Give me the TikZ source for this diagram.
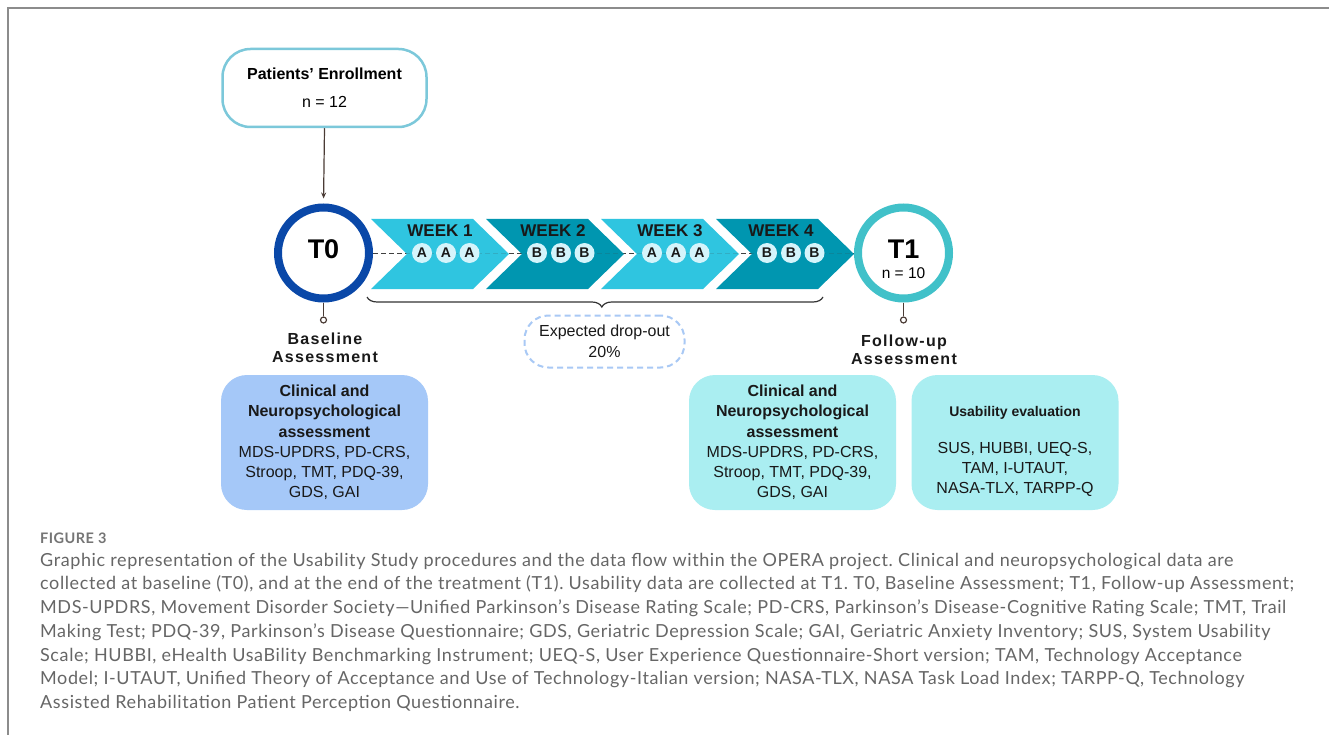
\documentclass[tikz,border=0pt]{standalone}
\usepackage{fontspec}
\setmainfont{Liberation Sans}
\newfontfamily\capfont[LetterSpace=3.3]{Lato}
\newfontfamily\spacedfont[LetterSpace=8]{Liberation Sans}
\usetikzlibrary{decorations.pathreplacing,calc,arrows.meta}
\definecolor{framec}{HTML}{8C8C8C}
\definecolor{enrollc}{HTML}{7CC8DA}
\definecolor{connc}{HTML}{4A3B35}
\definecolor{tzeroc}{HTML}{0A48A8}
\definecolor{tonec}{HTML}{41C1C9}
\definecolor{wlight}{HTML}{2FC5E0}
\definecolor{wdark}{HTML}{0096B0}
\definecolor{lettc}{HTML}{D4F4FB}
\definecolor{basec}{HTML}{A5C8F8}
\definecolor{followc}{HTML}{AAEEF1}
\definecolor{dropc}{HTML}{A9C9F5}
\definecolor{capc}{HTML}{666666}
\definecolor{bracec}{HTML}{333333}
\frenchspacing
\begin{document}
\begin{tikzpicture}[x=1pt,y=-1pt,
  enroll/.style={draw=enrollc, line width=2.5pt, rounded corners=28pt, minimum width=204pt, minimum height=78pt, fill=white, align=center, inner sep=0pt, font=\fontsize{16}{19}\selectfont},
  ring/.style={circle, minimum size=91pt, inner sep=0pt, line width=8pt, fill=white},
  conn/.style={draw=connc, line width=1.2pt},
  dot/.style={circle, draw=connc, fill=white, minimum size=6pt, inner sep=0pt, line width=1.2pt},
  letter/.style={circle, fill=lettc, minimum size=20pt, inner sep=0pt, text=black!90, font=\bfseries\fontsize{14}{14}\selectfont},
  weeklab/.style={font=\bfseries\fontsize{17}{18}\selectfont, text=black!90, inner sep=0pt},
  dashline/.style={draw=black!75, line width=1pt, dash pattern=on 5pt off 3pt},
  phase/.style={font=\spacedfont\bfseries\fontsize{16}{18}\selectfont, align=center, inner sep=0pt, text=black!90},
  assessbox/.style={rounded corners=26pt, minimum width=207pt, minimum height=135pt, inner sep=0pt, align=center, font=\fontsize{16}{20.2}\selectfont, text=black!90},
  dropbox/.style={draw=dropc, line width=2pt, dash pattern=on 6pt off 4pt, rounded corners=24pt, minimum width=160pt, minimum height=52pt, inner sep=0pt, align=center, font=\fontsize{16}{21}\selectfont, text=black!90},
  caption/.style={anchor=base west, inner sep=0pt, text=capc, font=\capfont\fontsize{18}{20}\selectfont}
]
\useasboundingbox (0,0) rectangle (1329,735);
\fill[white] (0,0) rectangle (1329,735);
% frame
\draw[framec, line width=1.5pt] (8,735) -- (8,8) -- (1329,8);

% enrollment
\node[enroll] (E) at (324.5,88) {\textbf{Patients’ Enrollment}\\[9pt]n = 12};

% time points
\node[ring, draw=tzeroc] (T0) at (323.5,253) {};
\node[ring, draw=tonec] (T1) at (903.5,253) {};
\node[font=\bfseries\fontsize{27}{30}\selectfont, inner sep=0pt] (T0lab) at (323.5,249) {T0};
\node[font=\bfseries\fontsize{27}{30}\selectfont, inner sep=0pt] (T1lab) at (903.5,249) {T1};
\node[font=\fontsize{15.5}{17}\selectfont, inner sep=0pt] (T1n) at (903.5,273) {n = 10};

\draw[conn, -{Stealth[length=6pt,width=5pt]}, shorten >=5pt] (E.south) -- (T0.north);

% dashed timeline (dark on white)
\draw[dashline] (T0.east) -- (T1.west);

% chevrons
\foreach \L/\col in {371/wlight, 486/wdark, 601/wlight, 716/wdark}{
  \fill[\col] (\L,219) -- ({\L+102},219) -- ({\L+138},254) -- ({\L+102},289) -- (\L,289) -- ({\L+36},254) -- cycle;
}
% dashed timeline seen faintly through the chevrons
\draw[dashline, draw opacity=0.18] (T0.east) -- (T1.west);

\foreach \cx/\n in {440/1, 553/2, 670/3, 781/4}{
  \node[weeklab] (W\n) at (\cx,231) {WEEK \n};
}
\foreach \L/\ch/\n in {371/A/1, 486/B/2, 601/A/3, 716/B/4}{
  \node[letter] (L\n a) at ({\L+51},253) {\ch};
  \node[letter] (L\n b) at ({\L+75},253) {\ch};
  \node[letter] (L\n c) at ({\L+98.5},253) {\ch};
}

% stems
\node[dot] (d0) at (323.5,320) {};
\node[dot] (d1) at (903.5,320) {};
\draw[conn] (T0.south) -- (d0.north);
\draw[conn] (T1.south) -- (d1.north);

% phase labels
\node[phase] (BA) at (325,348) {Baseline\\Assessment};
\node[phase] (FA) at (904,349.5) {Follow-up\\Assessment};

% brace + dropout
\coordinate (br1) at (367,297);
\coordinate (br2) at (823,297);
\draw[decorate, decoration={brace, mirror, amplitude=10pt, aspect=0.515}, line width=1.2pt, draw=bracec] (br1) -- (br2);
\node[dropbox] (D) at (604.5,341.5) {Expected drop-out\\20\%};

% assessment boxes
\node[assessbox, fill=basec] (B0) at (324.5,442.5) {\textbf{Clinical and}\\\textbf{Neuropsychological}\\\textbf{assessment}\\MDS-UPDRS, PD-CRS,\\Stroop, TMT, PDQ-39,\\GDS, GAI};
\node[assessbox, fill=followc] (B1) at (792.5,442.5) {\textbf{Clinical and}\\\textbf{Neuropsychological}\\\textbf{assessment}\\MDS-UPDRS, PD-CRS,\\Stroop, TMT, PDQ-39,\\GDS, GAI};
\node[assessbox, fill=followc] (B2) at (1015,442.5) {};
\node[align=center, inner sep=0pt, text=black!90, font=\fontsize{16}{20.2}\selectfont] (B2t) at ($(B2.center)+(0,9)$) {{\bfseries\fontsize{14}{16}\selectfont Usability evaluation}\\[17pt]SUS, HUBBI, UEQ-S,\\TAM, I-UTAUT,\\NASA-TLX, TARPP-Q};

% caption
\node[anchor=base west, inner sep=0pt, text=capc!90, font=\capfont\bfseries\fontsize{14.5}{16}\selectfont] (fig) at (40,543) {FIGURE 3};
\node[caption] (c1) at (40,566) {Graphic representation of the Usability Study procedures and the data flow within the OPERA project. Clinical and neuropsychological data are};
\node[caption] (c2) at (40,589.75) {collected at baseline (T0), and at the end of the treatment (T1). Usability data are collected at T1. T0, Baseline Assessment; T1, Follow-up Assessment;};
\node[caption] (c3) at (40,613.5) {MDS-UPDRS, Movement Disorder Society—Unified Parkinson’s Disease Rating Scale; PD-CRS, Parkinson’s Disease-Cognitive Rating Scale; TMT, Trail};
\node[caption] (c4) at (40,637.25) {Making Test; PDQ-39, Parkinson’s Disease Questionnaire; GDS, Geriatric Depression Scale; GAI, Geriatric Anxiety Inventory; SUS, System Usability};
\node[caption] (c5) at (40,661) {Scale; HUBBI, eHealth UsaBility Benchmarking Instrument; UEQ-S, User Experience Questionnaire-Short version; TAM, Technology Acceptance};
\node[caption] (c6) at (40,684.75) {Model; I-UTAUT, Unified Theory of Acceptance and Use of Technology-Italian version; NASA-TLX, NASA Task Load Index; TARPP-Q, Technology};
\node[caption] (c7) at (40,708.5) {Assisted Rehabilitation Patient Perception Questionnaire.};
\end{tikzpicture}
\end{document}
